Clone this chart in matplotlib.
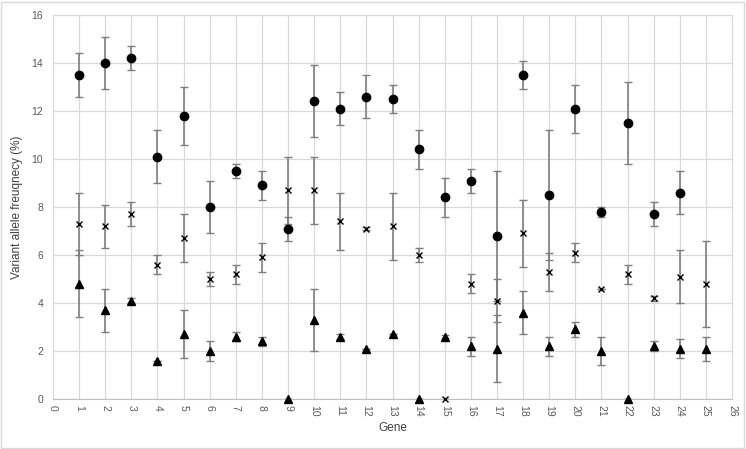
import numpy as np
import matplotlib
matplotlib.use("Agg")
import matplotlib.pyplot as plt
from matplotlib.patches import Rectangle

genes = np.arange(1, 26)

# circle series
circ = [13.5, 14.0, 14.2, 10.1, 11.8, 8.0, 9.5, 8.9, 7.1, 12.4, 12.1, 12.6, 12.5,
        10.4, 8.4, 9.1, 6.8, 13.5, 8.5, 12.1, 7.8, 11.5, 7.7, 8.6, np.nan]
circ_err = [0.9, 1.1, 0.5, 1.1, 1.2, 1.1, 0.3, 0.6, 0.5, 1.5, 0.7, 0.9, 0.6,
            0.8, 0.8, 0.5, 2.7, 0.6, 2.7, 1.0, 0.2, 1.7, 0.5, 0.9, 0.0]

# cross series
cross = [7.3, 7.2, 7.7, 5.6, 6.7, 5.0, 5.2, 5.9, 8.7, 8.7, 7.4, 7.1, 7.2,
         6.0, 0.0, 4.8, 4.1, 6.9, 5.3, 6.1, 4.6, 5.2, 4.2, 5.1, 4.8]
cross_err = [1.3, 0.9, 0.5, 0.4, 1.0, 0.3, 0.4, 0.6, 1.4, 1.4, 1.2, 0.05, 1.4,
             0.3, 0.0, 0.4, 0.9, 1.4, 0.8, 0.4, 0.0, 0.4, 0.1, 1.1, 1.8]

# triangle series
tri = [4.8, 3.7, 4.1, 1.6, 2.7, 2.0, 2.6, 2.4, 0.0, 3.3, 2.6, 2.1, 2.7,
       0.0, 2.6, 2.2, 2.1, 3.6, 2.2, 2.9, 2.0, 0.0, 2.2, 2.1, 2.1]
tri_err = [1.4, 0.9, 0.1, 0.0, 1.0, 0.4, 0.2, 0.2, 0.0, 1.3, 0.1, 0.0, 0.0,
           0.0, 0.05, 0.4, 1.4, 0.9, 0.4, 0.3, 0.6, 0.0, 0.2, 0.4, 0.5]

plt.rcParams['font.family'] = ['Liberation Sans', 'DejaVu Sans']

fig = plt.figure(figsize=(7.46, 4.49), dpi=100)
ax = fig.add_axes([53/746, 50/449, 679/746, 384/449])

ebkw = dict(fmt='none', ecolor='#7f7f7f', elinewidth=1.2, capsize=3, capthick=1, zorder=2)
ax.errorbar(genes, circ, yerr=circ_err, **ebkw)
ax.errorbar(genes, cross, yerr=cross_err, **ebkw)
ax.errorbar(genes, tri, yerr=tri_err, **ebkw)

ax.plot(genes, circ, 'o', color='black', markersize=6, zorder=3, clip_on=False)
ax.plot(genes, cross, 'x', color='black', markersize=5, mew=1.0, zorder=3, clip_on=False)
ax.plot(genes, tri, '^', color='black', markersize=6, zorder=3, clip_on=False)

ax.set_xlim(0, 26)
ax.set_ylim(0, 16)
ax.set_xticks(range(0, 27))
ax.set_yticks(range(0, 17, 2))
ax.tick_params(axis='x', labelrotation=-90, length=0, labelsize=7.5, colors='#595959', pad=4)
ax.tick_params(axis='y', length=0, labelsize=7.5, colors='#595959', pad=7)
ax.grid(True, color='#d9d9d9', linewidth=0.9, zorder=0)
ax.set_axisbelow(True)
for s in ['top', 'right', 'left']:
    ax.spines[s].set_color('#d9d9d9')
ax.spines['bottom'].set_color('#bfbfbf')

ax.set_xlabel('Gene', fontsize=8.5, color='#404040', labelpad=4)
ax.set_ylabel('Variant allele freuqnecy (%)', fontsize=8.5, color='#404040', labelpad=6)

fig.patches.append(Rectangle((1/746, 1/449), 743/746, 446/449, transform=fig.transFigure,
                             fill=False, edgecolor='#d9d9d9', linewidth=1))

fig.savefig('out.png', dpi=100)
